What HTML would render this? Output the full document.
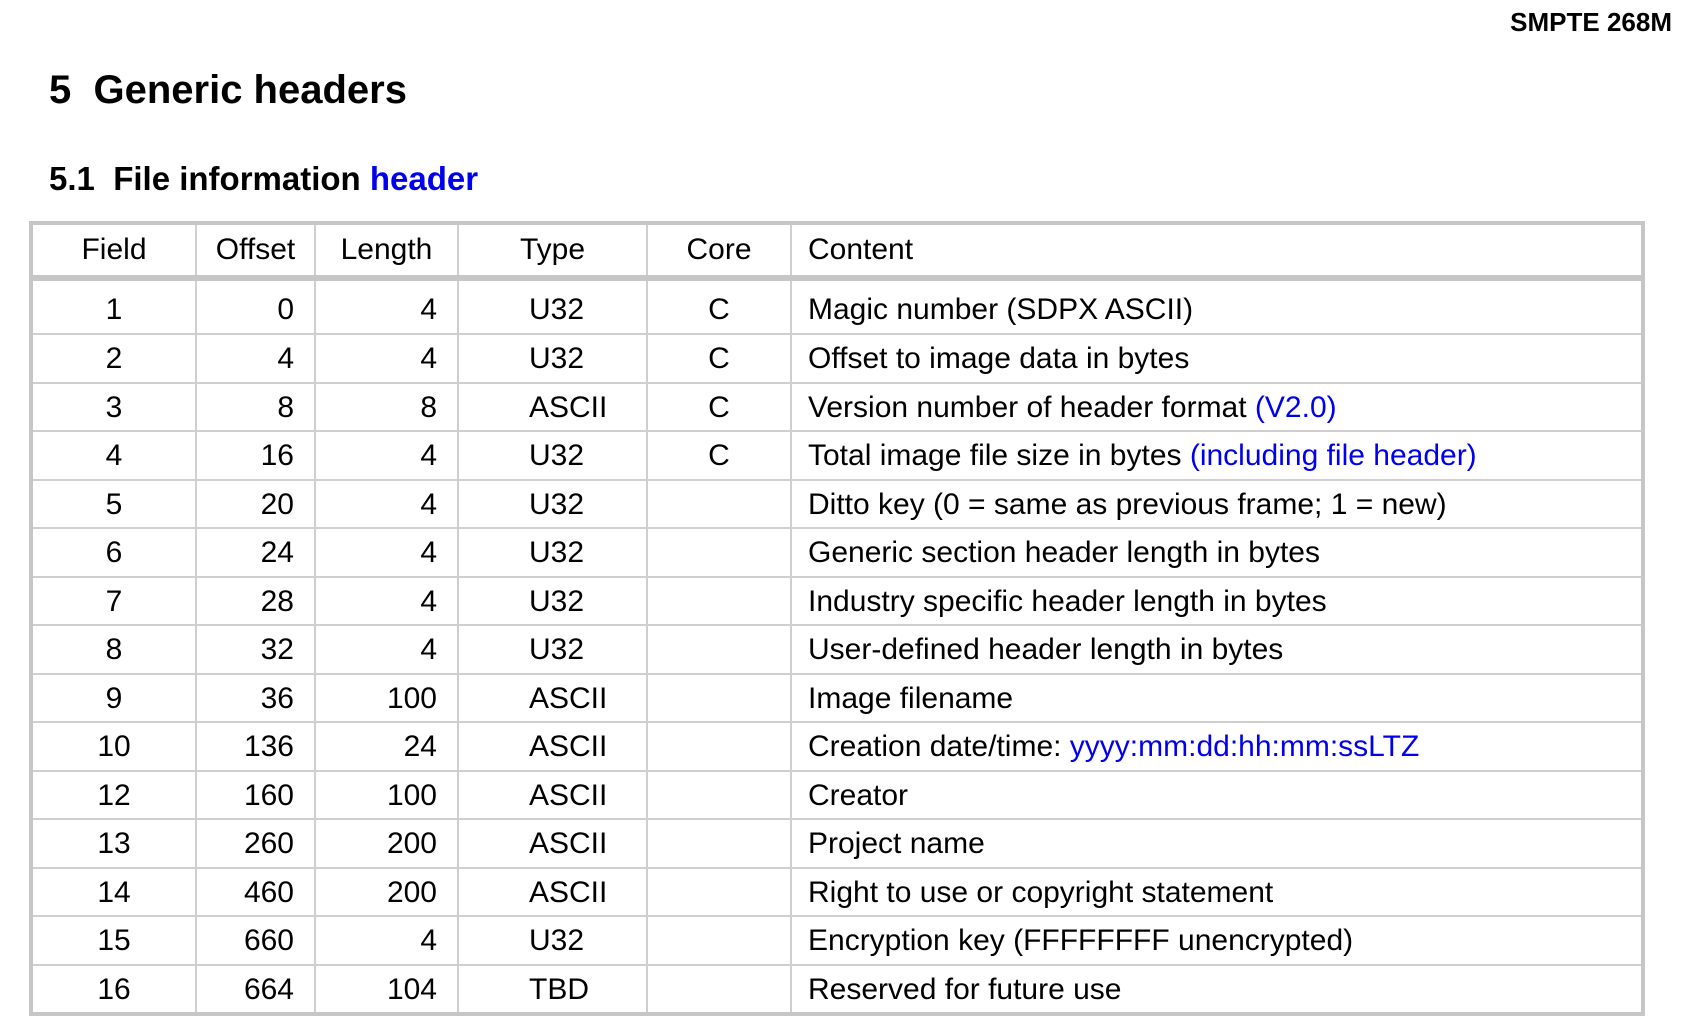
<!DOCTYPE html>
<html><head><meta charset="utf-8"><style>
body{margin:0;width:1696px;height:1026px;background:#fff;font-family:"Liberation Sans",Arial,sans-serif;color:#000;position:relative;overflow:hidden}
.std{position:absolute;right:24px;top:7px;font-weight:bold;font-size:26px}
h1{position:absolute;left:49px;top:68px;margin:0;font-size:40px;font-weight:bold}
h2{position:absolute;left:49px;top:160px;margin:0;font-size:33px;font-weight:bold}
.b{color:#0000ee}
table{position:absolute;left:29px;top:221px;width:1616px;border-collapse:collapse;border:4px solid #c6c6c6;table-layout:fixed}
td,th{border:2px solid #cfcfcf;font-size:30px;font-weight:normal;height:44.5px;padding:0;padding-top:2px;white-space:nowrap}
th{height:50px;border-bottom:6px solid #c6c6c6;padding-top:0}
tr.f td{height:47px;padding-top:5px}
td.c,th.c{text-align:center}
td.r{text-align:right;padding-right:20px}
td.t{padding-left:70px}
td.l,th.l{text-align:left;padding-left:16px}
</style></head><body>
<div class="std">SMPTE 268M</div>
<h1>5&nbsp; Generic headers</h1>
<h2>5.1&nbsp; File information <span class="b">header</span></h2>
<table>
<colgroup><col style="width:165px"><col style="width:119px"><col style="width:143px"><col style="width:189px"><col style="width:144px"><col></colgroup>
<tr><th class="c">Field</th><th class="c">Offset</th><th class="c">Length</th><th class="c">Type</th><th class="c">Core</th><th class="l">Content</th></tr>
<tr class="f"><td class="c">1</td><td class="r">0</td><td class="r">4</td><td class="t">U32</td><td class="c">C</td><td class="l">Magic number (SDPX ASCII)</td></tr>
<tr><td class="c">2</td><td class="r">4</td><td class="r">4</td><td class="t">U32</td><td class="c">C</td><td class="l">Offset to image data in bytes</td></tr>
<tr><td class="c">3</td><td class="r">8</td><td class="r">8</td><td class="t">ASCII</td><td class="c">C</td><td class="l">Version number of header format <span class="b">(V2.0)</span></td></tr>
<tr><td class="c">4</td><td class="r">16</td><td class="r">4</td><td class="t">U32</td><td class="c">C</td><td class="l">Total image file size in bytes <span class="b">(including file header)</span></td></tr>
<tr><td class="c">5</td><td class="r">20</td><td class="r">4</td><td class="t">U32</td><td></td><td class="l">Ditto key (0 = same as previous frame; 1 = new)</td></tr>
<tr><td class="c">6</td><td class="r">24</td><td class="r">4</td><td class="t">U32</td><td></td><td class="l">Generic section header length in bytes</td></tr>
<tr><td class="c">7</td><td class="r">28</td><td class="r">4</td><td class="t">U32</td><td></td><td class="l">Industry specific header length in bytes</td></tr>
<tr><td class="c">8</td><td class="r">32</td><td class="r">4</td><td class="t">U32</td><td></td><td class="l">User-defined header length in bytes</td></tr>
<tr><td class="c">9</td><td class="r">36</td><td class="r">100</td><td class="t">ASCII</td><td></td><td class="l">Image filename</td></tr>
<tr><td class="c">10</td><td class="r">136</td><td class="r">24</td><td class="t">ASCII</td><td></td><td class="l">Creation date/time: <span class="b">yyyy:mm:dd:hh:mm:ssLTZ</span></td></tr>
<tr><td class="c">12</td><td class="r">160</td><td class="r">100</td><td class="t">ASCII</td><td></td><td class="l">Creator</td></tr>
<tr><td class="c">13</td><td class="r">260</td><td class="r">200</td><td class="t">ASCII</td><td></td><td class="l">Project name</td></tr>
<tr><td class="c">14</td><td class="r">460</td><td class="r">200</td><td class="t">ASCII</td><td></td><td class="l">Right to use or copyright statement</td></tr>
<tr><td class="c">15</td><td class="r">660</td><td class="r">4</td><td class="t">U32</td><td></td><td class="l">Encryption key (FFFFFFFF unencrypted)</td></tr>
<tr><td class="c">16</td><td class="r">664</td><td class="r">104</td><td class="t">TBD</td><td></td><td class="l">Reserved for future use</td></tr>
</table>
</body></html>
